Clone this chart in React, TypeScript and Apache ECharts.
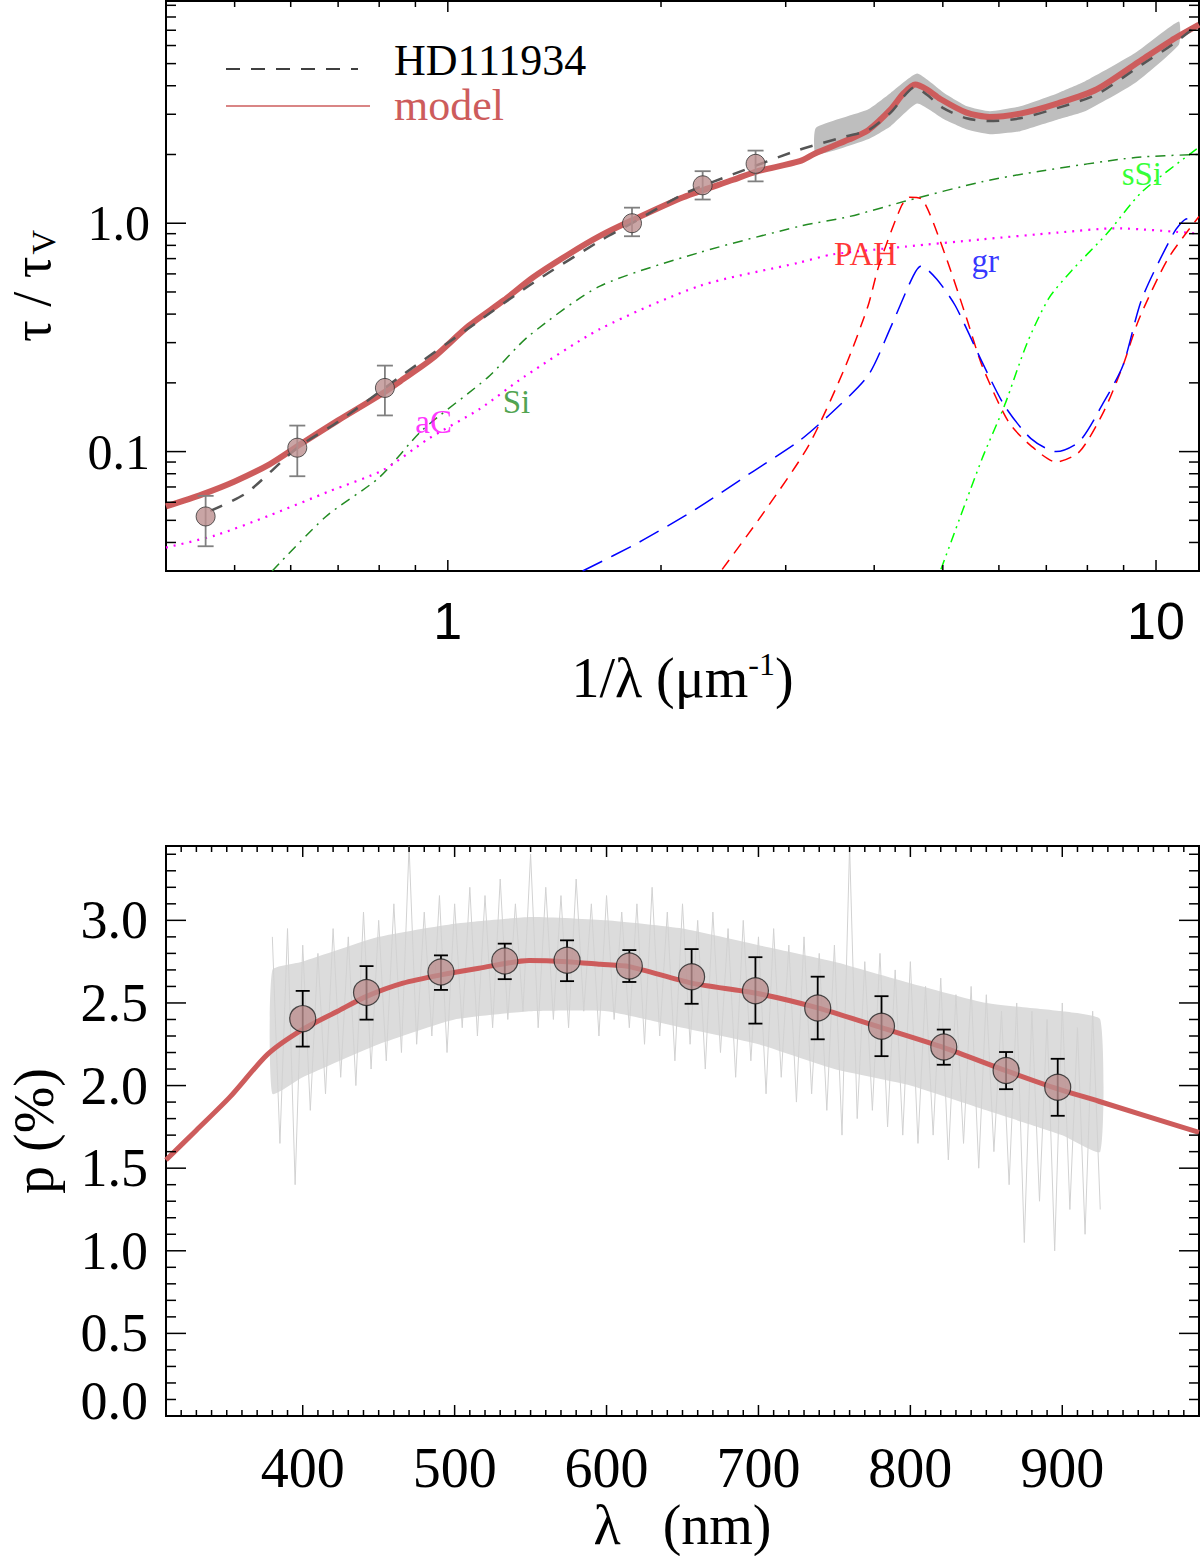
import { useEffect, useRef } from 'react';
import * as echarts from 'echarts';

const SERIF = '"Liberation Serif", "DejaVu Serif", serif';
const SANS = '"Liberation Sans", Arial, sans-serif';

// ---------- top panel: extinction curve tau/tau_V vs 1/lambda ----------
const photX = [0.455, 0.613, 0.815, 1.82, 2.29, 2.72];
const photY = [0.052, 0.104, 0.19, 1.0, 1.466, 1.82];
const photLo = [0.0385, 0.078, 0.144, 0.877, 1.27, 1.525];
const photHi = [0.064, 0.13, 0.238, 1.17, 1.69, 2.08];

const modelX = [0.4, 0.45, 0.5, 0.56, 0.62, 0.7, 0.8, 0.86, 0.95, 1.07, 1.2, 1.32, 1.48, 1.64, 1.82, 2.15, 2.53, 2.72, 3.14, 3.3, 3.69, 3.92, 4.22, 4.4, 4.57, 4.75, 4.96, 5.4, 5.82, 6.43, 7.27, 8.24, 9.55, 10.5, 11.5];
const modelY = [0.0575, 0.065, 0.074, 0.088, 0.108, 0.137, 0.176, 0.205, 0.255, 0.355, 0.46, 0.58, 0.73, 0.88, 1.03, 1.3, 1.55, 1.68, 1.87, 2.02, 2.33, 2.55, 3.15, 3.7, 4.05, 3.85, 3.5, 3.05, 2.92, 3.02, 3.35, 3.85, 5.2, 6.3, 7.4];

const obsX = [0.462, 0.52, 0.613, 0.7, 0.815, 0.86, 1.066, 1.323, 1.64, 1.82, 2.15, 2.53, 3.14, 3.65, 3.92, 4.22, 4.57, 4.75, 5.0, 5.4, 5.8, 6.43, 7.27, 8.24, 9.55, 10.5, 11.4];
const obsY = [0.055, 0.066, 0.104, 0.135, 0.19, 0.215, 0.344, 0.551, 0.837, 1.0, 1.34, 1.64, 2.1, 2.4, 2.55, 3.05, 3.95, 3.65, 3.2, 2.88, 2.8, 2.88, 3.2, 3.66, 4.95, 6.0, 7.3];

const bandX = [3.31, 3.92, 4.22, 4.6, 5.02, 5.41, 5.83, 6.43, 7.28, 7.94, 9.34, 10.77];
const bandHi = [2.62, 3.15, 3.72, 4.52, 3.72, 3.25, 3.09, 3.25, 3.72, 4.18, 5.56, 7.65];
const bandLo = [2.0, 2.33, 2.66, 3.34, 2.85, 2.57, 2.45, 2.53, 2.85, 3.09, 4.11, 6.05];

const siX = [0.565, 0.673, 0.8, 0.92, 1.14, 1.3, 1.64, 2.27, 3.14, 3.69, 4.43, 5.68, 6.85, 9.35, 11.5];
const siY = [0.03, 0.052, 0.077, 0.124, 0.212, 0.32, 0.53, 0.745, 0.97, 1.07, 1.25, 1.52, 1.69, 1.94, 2.0];

const acX = [0.4, 0.47, 0.56, 0.68, 0.81, 0.94, 1.11, 1.28, 1.64, 2.27, 3.14, 3.49, 4.43, 5.68, 7.27, 8.77, 11.5];
const acY = [0.038, 0.043, 0.0525, 0.067, 0.083, 0.114, 0.154, 0.212, 0.344, 0.532, 0.673, 0.73, 0.79, 0.85, 0.91, 0.95, 0.9];

const pahX = [2.44, 2.8, 3.23, 3.63, 3.92, 4.06, 4.37, 4.49, 4.68, 5.02, 5.4, 5.68, 6.19, 6.66, 7.23, 7.8, 8.44, 8.98, 9.46, 10.4, 11.5];
const pahY = [0.0305, 0.0547, 0.106, 0.23, 0.434, 0.65, 1.19, 1.3, 1.27, 0.75, 0.385, 0.238, 0.135, 0.106, 0.09, 0.1, 0.15, 0.238, 0.38, 0.7, 1.07];

const grX = [1.55, 1.86, 2.24, 2.7, 3.13, 3.45, 3.92, 4.22, 4.54, 4.66, 4.9, 5.21, 5.68, 6.11, 6.66, 7.23, 7.8, 8.44, 8.98, 9.55, 10.6, 11.0, 11.3];
const grY = [0.03, 0.04, 0.056, 0.082, 0.111, 0.144, 0.215, 0.35, 0.587, 0.65, 0.57, 0.434, 0.247, 0.159, 0.114, 0.1, 0.111, 0.165, 0.238, 0.466, 0.91, 1.04, 1.05];

const ssiX = [4.97, 5.68, 6.11, 6.58, 7.06, 7.6, 8.55, 9.55, 11.5];
const ssiY = [0.0305, 0.093, 0.159, 0.3, 0.47, 0.62, 0.91, 1.37, 2.15];

const compNames = ['aC', 'Si', 'PAH', 'gr', 'sSi'];
const compLabelX = [0.955, 1.25, 3.89, 5.74, 9.55];
const compLabelY = [0.135, 0.165, 0.73, 0.68, 1.65];
const compColors = ['#ff00ff', '#228b22', '#ff0000', '#0000ff', '#00ff00'];

const topXMajor = [1, 10];
const topXMinor = [0.5, 0.6, 0.7, 0.8, 0.9, 2, 3, 4, 5, 6, 7, 8, 9];
const topYMajor = [0.1, 1];
const topYMinor = [0.04, 0.05, 0.06, 0.07, 0.08, 0.09, 0.2, 0.3, 0.4, 0.5, 0.6, 0.7, 0.8, 0.9, 2, 3, 4, 5, 6, 7, 8, 9];

// ---------- bottom panel: polarisation p(%) vs lambda ----------
const polWl = [400, 442, 491, 533, 574, 615, 656, 698, 739, 781, 822, 863, 897];
const polP = [2.405, 2.563, 2.687, 2.754, 2.758, 2.724, 2.659, 2.574, 2.47, 2.359, 2.233, 2.091, 1.99];
const polLo = [2.236, 2.399, 2.579, 2.644, 2.632, 2.627, 2.495, 2.375, 2.28, 2.178, 2.126, 1.978, 1.817];
const polHi = [2.573, 2.723, 2.788, 2.859, 2.879, 2.82, 2.826, 2.777, 2.659, 2.541, 2.339, 2.203, 2.162];

const polModelWl = [310, 330, 352, 377, 400, 423, 442, 466, 491, 516, 549, 574, 596, 615, 656, 698, 739, 781, 822, 863, 897, 924, 990];
const polModelP = [1.55, 1.73, 1.93, 2.19, 2.34, 2.45, 2.54, 2.62, 2.67, 2.71, 2.757, 2.75, 2.734, 2.72, 2.62, 2.56, 2.47, 2.35, 2.23, 2.09, 1.98, 1.905, 1.716];

// spectrum: dense core envelope and spiky samples
const coreWl = [380, 400, 450, 500, 550, 600, 650, 700, 750, 800, 850, 900, 925];
const coreHi = [2.7, 2.75, 2.9, 2.98, 3.02, 3.0, 2.95, 2.85, 2.75, 2.62, 2.5, 2.45, 2.4];
const coreLo = [1.95, 2.05, 2.25, 2.4, 2.45, 2.45, 2.35, 2.25, 2.1, 2.0, 1.85, 1.7, 1.6];

const specWl = [380, 385, 390, 395, 400, 405, 410, 415, 420, 425, 430, 435, 440, 445, 450, 455, 460, 465, 470, 475, 480, 485, 490, 495, 500, 505, 510, 515, 520, 525, 530, 535, 540, 545, 550, 555, 560, 565, 570, 575, 580, 585, 590, 595, 600, 605, 610, 615, 620, 625, 630, 635, 640, 645, 650, 655, 660, 665, 670, 675, 680, 685, 690, 695, 700, 705, 710, 715, 720, 725, 730, 735, 740, 745, 750, 755, 760, 765, 770, 775, 780, 785, 790, 795, 800, 805, 810, 815, 820, 825, 830, 835, 840, 845, 850, 855, 860, 865, 870, 875, 880, 885, 890, 895, 900, 905, 910, 915, 920, 925];
const specP = [2.9, 1.65, 2.95, 1.4, 2.85, 1.85, 2.8, 1.95, 2.95, 2.05, 2.9, 2.0, 3.05, 2.1, 3.0, 2.15, 3.1, 2.2, 3.45, 2.25, 3.05, 2.3, 3.15, 2.2, 3.1, 2.35, 3.2, 2.3, 3.15, 2.35, 3.25, 2.4, 3.1, 2.45, 3.4, 2.35, 3.2, 2.4, 3.15, 2.35, 3.25, 2.45, 3.1, 2.3, 3.15, 2.4, 3.05, 2.35, 3.1, 2.25, 3.2, 2.3, 3.05, 2.15, 3.1, 2.25, 3.0, 2.1, 3.05, 2.2, 2.95, 2.05, 3.0, 2.15, 2.9, 1.95, 2.95, 2.05, 2.85, 1.9, 2.9, 1.95, 2.8, 1.85, 2.85, 1.7, 3.45, 1.8, 2.75, 1.85, 2.8, 1.75, 2.7, 1.7, 2.75, 1.65, 2.6, 1.7, 2.65, 1.55, 2.55, 1.65, 2.6, 1.5, 2.55, 1.6, 2.45, 1.4, 2.5, 1.05, 2.45, 1.3, 2.4, 1.0, 2.5, 1.25, 2.35, 1.1, 2.45, 1.25];

const botXMajor = [400, 500, 600, 700, 800, 900];
const botYMajor = [0, 0.5, 1.0, 1.5, 2.0, 2.5, 3.0];

const RED = '#cd5c5c';
const zip = (xs: number[], ys: number[]) => xs.map((x, i) => [x, ys[i]]);

function tickSeries(idx: number, items: number[][]) {
  return {
    type: 'custom',
    xAxisIndex: idx,
    yAxisIndex: idx,
    clip: false,
    silent: true,
    z: 20,
    data: items,
    renderItem: (params: any, api: any) => {
      const cs = params.coordSys;
      const p = api.coord([api.value(0), api.value(1)]);
      const len = api.value(3);
      const style = { stroke: '#000', lineWidth: 1.5 };
      if (api.value(2) === 0) {
        return {
          type: 'group',
          children: [
            { type: 'line', shape: { x1: p[0], y1: cs.y + cs.height, x2: p[0], y2: cs.y + cs.height - len }, style },
            { type: 'line', shape: { x1: p[0], y1: cs.y, x2: p[0], y2: cs.y + len }, style },
          ],
        };
      }
      return {
        type: 'group',
        children: [
          { type: 'line', shape: { x1: cs.x, y1: p[1], x2: cs.x + len, y2: p[1] }, style },
          { type: 'line', shape: { x1: cs.x + cs.width, y1: p[1], x2: cs.x + cs.width - len, y2: p[1] }, style },
        ],
      };
    },
  };
}

function errorSeries(idx: number, xs: number[], lo: number[], hi: number[], color: string, cap: number) {
  return {
    type: 'custom',
    xAxisIndex: idx,
    yAxisIndex: idx,
    silent: true,
    z: 8,
    data: xs.map((x, i) => [x, lo[i], hi[i]]),
    renderItem: (_: any, api: any) => {
      const a = api.coord([api.value(0), api.value(1)]);
      const b = api.coord([api.value(0), api.value(2)]);
      const style = { stroke: color, lineWidth: 1.8 };
      return {
        type: 'group',
        children: [
          { type: 'line', shape: { x1: a[0], y1: a[1], x2: b[0], y2: b[1] }, style },
          { type: 'line', shape: { x1: a[0] - cap, y1: a[1], x2: a[0] + cap, y2: a[1] }, style },
          { type: 'line', shape: { x1: b[0] - cap, y1: b[1], x2: b[0] + cap, y2: b[1] }, style },
        ],
      };
    },
  };
}

function bandSeries(idx: number, xs: number[], lo: number[], hi: number[], color: string, z: number) {
  return {
    type: 'custom',
    xAxisIndex: idx,
    yAxisIndex: idx,
    silent: true,
    z,
    data: [[xs[0], lo[0]]],
    renderItem: (_: any, api: any) => {
      const pts = xs.map((x, i) => api.coord([x, hi[i]]));
      for (let i = xs.length - 1; i >= 0; i--) pts.push(api.coord([xs[i], lo[i]]));
      return { type: 'polygon', shape: { points: pts, smooth: 0.15 }, style: { fill: color } };
    },
  };
}

function lineSeries(idx: number, xs: number[], ys: number[], color: string, width: number, type: any, z: number) {
  return {
    type: 'line',
    xAxisIndex: idx,
    yAxisIndex: idx,
    data: zip(xs, ys),
    showSymbol: false,
    smooth: 0.25,
    silent: true,
    z,
    lineStyle: { color, width, type },
  };
}

export default function App() {
  const ref = useRef<HTMLDivElement>(null);

  useEffect(() => {
    if (!ref.current) return;
    document.body.style.margin = '0';
    const chart = echarts.init(ref.current, undefined, { renderer: 'svg' });

    const topTicks = [
      ...topXMajor.map((v) => [v, 1, 0, 11]),
      ...topXMinor.map((v) => [v, 1, 0, 6]),
      ...topYMajor.map((v) => [1, v, 1, 20]),
      ...topYMinor.map((v) => [1, v, 1, 10]),
    ];
    const botTicks: number[][] = [];
    botXMajor.forEach((v) => botTicks.push([v, 1, 0, 11]));
    for (let v = 320; v < 990; v += 10) if (v % 100 !== 0) botTicks.push([v, 1, 0, 6]);
    botYMajor.forEach((v) => botTicks.push([500, v, 1, 20]));
    for (let i = 1; i <= 34; i++) if (i % 5 !== 0) botTicks.push([500, i / 10, 1, 10]);

    const isPow10 = (v: number) => Math.abs(Math.log10(v) - Math.round(Math.log10(v))) < 1e-6;

    const gridBase = { left: 166, width: 1033, height: 570, show: true, borderColor: '#000', borderWidth: 2, outerBoundsMode: 'none', containLabel: false };

    const option: any = {
      animation: false,
      textStyle: { fontFamily: SERIF },
      grid: [
        { ...gridBase, top: 1 },
        { ...gridBase, top: 846 },
      ],
      xAxis: [
        {
          type: 'log',
          gridIndex: 0,
          min: 0.4,
          max: 11.5,
          axisLine: { show: true, lineStyle: { color: '#000', width: 2 } },
          axisTick: { show: false },
          splitLine: { show: false },
          axisLabel: {
            fontFamily: SANS,
            fontSize: 52,
            color: '#000',
            margin: 24,
            showMinLabel: false,
            showMaxLabel: false,
            formatter: (v: number) => (isPow10(v) ? String(Math.round(v)) : ''),
          },
          name: '1/λ (μm{sup|-1})',
          nameLocation: 'middle',
          nameGap: 76,
          nameTextStyle: {
            fontFamily: SERIF,
            fontSize: 56,
            color: '#000',
            rich: { sup: { fontFamily: SERIF, fontSize: 32, color: '#000', padding: [0, 0, 28, 0] } },
          },
        },
        {
          type: 'value',
          gridIndex: 1,
          min: 310,
          max: 990,
          splitNumber: 6,
          axisLine: { show: true, lineStyle: { color: '#000', width: 2 } },
          axisTick: { show: false },
          splitLine: { show: false },
          axisLabel: {
            fontFamily: SERIF,
            fontSize: 56,
            color: '#000',
            margin: 24,
            formatter: (v: number) => (v % 100 === 0 && v >= 400 && v <= 900 ? String(v) : ''),
          },
          name: 'λ   (nm)',
          nameLocation: 'middle',
          nameGap: 80,
          nameTextStyle: { fontFamily: SERIF, fontSize: 56, color: '#000' },
        },
      ],
      yAxis: [
        {
          type: 'log',
          gridIndex: 0,
          min: 0.03,
          max: 9.4,
          axisLine: { show: true, lineStyle: { color: '#000', width: 2 } },
          axisTick: { show: false },
          splitLine: { show: false },
          axisLabel: {
            fontFamily: SERIF,
            fontSize: 50,
            color: '#000',
            margin: 16,
            showMinLabel: false,
            showMaxLabel: false,
            formatter: (v: number) => (isPow10(v) ? (v >= 1 ? v.toFixed(1) : String(v)) : ''),
          },
          name: '{t|τ / τ}{s|V}',
          nameLocation: 'middle',
          nameRotate: 90,
          nameGap: 106,
          nameTextStyle: {
            rich: {
              t: { fontFamily: SERIF, fontSize: 54, color: '#000' },
              s: { fontFamily: SERIF, fontSize: 34, color: '#000', padding: [22, 0, 0, 2] },
            },
          },
        },
        {
          type: 'value',
          gridIndex: 1,
          min: 0,
          max: 3.45,
          interval: 0.5,
          axisLine: { show: true, lineStyle: { color: '#000', width: 2 } },
          axisTick: { show: false },
          splitLine: { show: false },
          axisLabel: {
            fontFamily: SERIF,
            fontSize: 54,
            color: '#000',
            margin: 18,
            formatter: (v: number) => {
              if (Math.abs(v * 2 - Math.round(v * 2)) > 1e-6) return '';
              return v === 0 ? '{low|0.0}' : v.toFixed(1);
            },
            rich: { low: { fontFamily: SERIF, fontSize: 54, color: '#000', padding: [0, 0, 30, 0] } },
          },
          name: 'p (%)',
          nameLocation: 'middle',
          nameRotate: 90,
          nameGap: 104,
          nameTextStyle: { fontFamily: SERIF, fontSize: 56, color: '#000' },
        },
      ],
      graphic: [
        { type: 'line', shape: { x1: 226, y1: 69, x2: 358, y2: 69 }, style: { stroke: '#000', lineWidth: 1.5, lineDash: [14, 11] } },
        { type: 'text', x: 394, y: 60, style: { text: 'HD111934', fontFamily: SERIF, fontSize: 44, fill: '#000', verticalAlign: 'middle' } },
        { type: 'line', shape: { x1: 226, y1: 106, x2: 370, y2: 106 }, style: { stroke: RED, lineWidth: 1.5 } },
        { type: 'text', x: 394, y: 105, style: { text: 'model', fontFamily: SERIF, fontSize: 44, fill: RED, verticalAlign: 'middle' } },
      ],
      series: [
        // top panel
        bandSeries(0, bandX, bandLo, bandHi, '#bebebe', 1),
        lineSeries(0, siX, siY, compColors[1], 1.5, [10, 6, 2, 6], 3),
        lineSeries(0, acX, acY, compColors[0], 2.2, [2, 6], 3),
        lineSeries(0, pahX, pahY, compColors[2], 1.5, [12, 8], 3),
        lineSeries(0, grX, grY, compColors[3], 1.5, [22, 10], 3),
        lineSeries(0, ssiX, ssiY, compColors[4], 1.5, [10, 5, 2, 5, 2, 5], 3),
        lineSeries(0, modelX, modelY, RED, 6, 'solid', 4),
        lineSeries(0, obsX, obsY, '#555555', 2.5, [13, 11], 5),
        errorSeries(0, photX, photLo, photHi, '#808080', 8),
        {
          type: 'scatter',
          xAxisIndex: 0,
          yAxisIndex: 0,
          data: zip(photX, photY),
          symbolSize: 19,
          z: 9,
          itemStyle: { color: '#bc8f8f', borderColor: '#333', borderWidth: 1 },
        },
        {
          type: 'scatter',
          xAxisIndex: 0,
          yAxisIndex: 0,
          symbolSize: 0,
          z: 10,
          data: compNames.map((n, i) => ({
            value: [compLabelX[i], compLabelY[i]],
            label: {
              show: true,
              position: 'inside',
              formatter: n,
              color: compColors[i],
              fontFamily: SERIF,
              fontSize: 33,
            },
          })),
        },
        tickSeries(0, topTicks),
        // bottom panel
        bandSeries(1, coreWl, coreLo, coreHi, '#dcdcdc', 1),
        {
          type: 'line',
          xAxisIndex: 1,
          yAxisIndex: 1,
          data: zip(specWl, specP),
          showSymbol: false,
          silent: true,
          z: 2,
          lineStyle: { color: '#d2d2d2', width: 1 },
        },
        lineSeries(1, polModelWl, polModelP, RED, 5, 'solid', 4),
        errorSeries(1, polWl, polLo, polHi, '#000', 7),
        {
          type: 'scatter',
          xAxisIndex: 1,
          yAxisIndex: 1,
          data: zip(polWl, polP),
          symbolSize: 26,
          z: 9,
          itemStyle: { color: '#bc8f8f', borderColor: '#222', borderWidth: 1.2 },
        },
        tickSeries(1, botTicks),
      ],
    };

    chart.setOption(option);
    return () => {
      chart.dispose();
    };
  }, []);

  return <div ref={ref} style={{ width: '1200px', height: '1556px' }} />;
}
